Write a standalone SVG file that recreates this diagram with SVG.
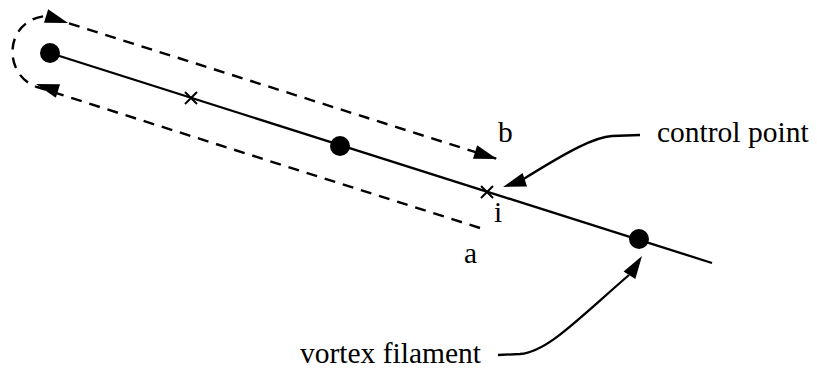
<svg xmlns="http://www.w3.org/2000/svg" xmlns:xlink="http://www.w3.org/1999/xlink" width="817" height="373" viewBox="0 0 817 373">
  <style>
    .line { stroke: #000; stroke-width: 2.3; fill: none; }
    .dash { stroke: #000; stroke-width: 2.4; fill: none; stroke-dasharray: 11 8; }
    .dot { fill: #000; }
    .cross { stroke: #000; stroke-width: 2; }
    .lbl { font-family: "Liberation Serif", "Times New Roman", serif; font-size: 29.5px; fill: #000; }
  </style>
  <defs>
    <path id="ah" d="M0,0 L-23,-7 L-23,7 Z" fill="#000"/>
  </defs>
  <rect width="817" height="373" fill="#fff"/>

  <g id="connectors">
    <line class="line" x1="50" y1="53" x2="712" y2="263"/>
    <path class="dash" d="M480,228 L37,87 C 2,75 4,20 46,16 L497,159"/>
    <use xlink:href="#ah" href="#ah" transform="translate(68,23) rotate(17.6)"/>
    <use xlink:href="#ah" href="#ah" transform="translate(36,84) rotate(197.6)"/>
    <use xlink:href="#ah" href="#ah" transform="translate(497,159) rotate(17.6)"/>
    <path class="line" d="M640,135 L612,136 C 595,137 570,150 522,180"/>
    <use xlink:href="#ah" href="#ah" transform="translate(503,187) rotate(161.6)"/>
    <path class="line" d="M498,355 L520,354 C 547,352 577,320 629,275"/>
    <use xlink:href="#ah" href="#ah" transform="translate(642,256) rotate(-57)"/>
  </g>

  <g id="dot1"><circle class="dot" cx="50" cy="53" r="10"/></g>
  <g id="dot2"><circle class="dot" cx="340" cy="146" r="10"/></g>
  <g id="dot3"><circle class="dot" cx="639" cy="239" r="10"/></g>
  <g id="cross1"><path class="cross" d="M185,92 L197,104 M185,104 L197,92"/></g>
  <g id="cross-i"><path class="cross" d="M481,186 L493,198 M481,198 L493,186"/></g>

  <g id="label-b"><text class="lbl" x="498" y="142">b</text></g>
  <g id="label-i"><text class="lbl" x="494" y="222">i</text></g>
  <g id="label-a"><text class="lbl" x="464" y="263">a</text></g>
  <g id="label-control"><text class="lbl" x="657" y="142">control point</text></g>
  <g id="label-vortex"><text class="lbl" x="300" y="363">vortex filament</text></g>
</svg>
